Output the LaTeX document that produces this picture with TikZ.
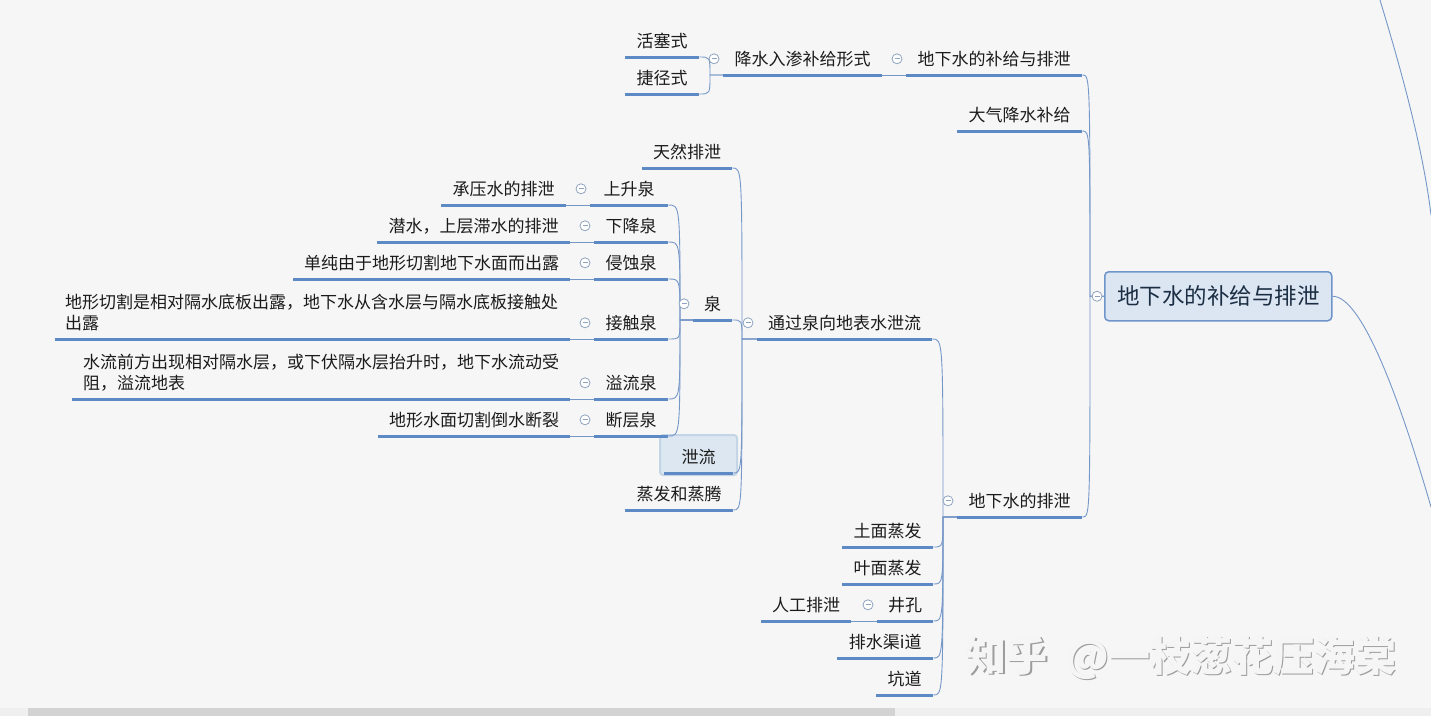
\documentclass[tikz,border=0pt]{standalone}
\usepackage{fontspec}
\setmainfont{Noto Sans CJK SC}
\usetikzlibrary{calc}
\definecolor{bgc}{HTML}{F6F6F6}
\definecolor{ulc}{HTML}{5D89C5}
\definecolor{connc}{HTML}{7597C8}
\definecolor{foldc}{HTML}{8FA3BF}
\definecolor{txt}{HTML}{1B1B1B}
\definecolor{rootfill}{HTML}{DCE6F2}
\definecolor{rootdraw}{HTML}{6F95CB}
\definecolor{roottxt}{HTML}{1C2E44}
\definecolor{selfill}{HTML}{DCE7F1}
\definecolor{seldraw}{HTML}{C4D5E5}
\definecolor{sbl}{HTML}{EFEFEF}
\definecolor{sbd}{HTML}{D3D3D3}
\definecolor{wmfront}{HTML}{F5F5F5}
\definecolor{wmback}{HTML}{9C9C9C}
\tikzset{
  topic/.style={inner sep=0pt, minimum height=32pt, font=\fontsize{17}{21}\selectfont, text=txt},
  ul/.style={draw=ulc, line width=3pt},
  conn/.style={draw=connc, line width=0.9pt},
  fold/.style={circle, draw=foldc, fill=white, line width=0.8pt, minimum size=10pt, inner sep=0pt,
    path picture={\draw[foldc, line width=0.8pt] (-2.5pt,0pt)--(2.5pt,0pt);}},
  rootbox/.style={draw=rootdraw, fill=rootfill, line width=1.5pt, rounded corners=4pt, inner sep=0pt,
    font=\fontsize{22.5}{26}\selectfont, text=roottxt},
  selbox/.style={draw=seldraw, fill=selfill, line width=2pt, rounded corners=3pt},
  wmtext/.style={font=\fontsize{41}{45}\selectfont\bfseries, text=wmfront, inner sep=0pt},
  wmshadow/.style={font=\fontsize{41}{45}\selectfont\bfseries, text=wmback, inner sep=0pt},
}
% \mmtopic[opts]{name}{x left}{x right}{y of underline}{text}
\newcommand\mmtopic[6][]{%
  \node[topic, minimum width={#4-#3}, anchor=south west, #1] (#2) at (#3,#5) {#6};
  \draw[ul] (#2.south west) -- (#2.south east);}
% \mmlink{child}{parent point}{junction x coordinate}
\newcommand\mmlink[3]{%
  \draw[conn] (#1.south east) .. controls (#1.south east -| #3) .. (#2 -| #3) -- (#2);}
\newcommand\mmfold[2][9pt]{\node[fold] (#2-f) at ([xshift=-#1]#2.west) {};}
\begin{document}
\begin{tikzpicture}[x=1pt,y=-1pt]
\useasboundingbox (0,0) rectangle (1431,716);
\fill[bgc] (0,0) rectangle (1431,716);
\fill[sbl] (0,708) rectangle (1431,716);
\fill[sbd] (28,708) rectangle (895,716);
\draw[selbox] (660,435) rectangle (737,475);

% root
\node[rootbox, minimum width=227pt, minimum height=49pt, anchor=north west] (root) at (1104,271) {地下水的补给与排泄};

% top branch
\mmtopic{hs}{625}{699}{57}{活塞式}
\mmtopic{jj}{625}{699}{94}{捷径式}
\mmtopic{js}{723}{882}{75}{降水入渗补给形式}
\mmtopic{sub}{906}{1082}{75}{地下水的补给与排泄}
\mmtopic{dq}{957}{1082}{131}{大气降水补给}
\mmtopic{px}{957}{1082}{517}{地下水的排泄}

% discharge branch
\mmtopic{tq}{757}{932}{339}{通过泉向地表水泄流}
\mmtopic{tm}{842}{933}{547}{土面蒸发}
\mmtopic{ym}{842}{933}{584}{叶面蒸发}
\mmtopic{jk}{877}{933}{621}{井孔}
\mmtopic{rg}{761}{851}{621}{人工排泄}
\mmtopic{ps}{837}{933}{658}{排水渠i道}
\mmtopic{kd}{876}{933}{695}{坑道}

% spring branch
\mmtopic{tr}{642}{732}{168}{天然排泄}
\mmtopic{quan}{693}{732}{320}{泉}
\mmtopic{xl}{664}{733}{473}{泄流}
\mmtopic{zf}{625}{733}{510}{蒸发和蒸腾}

\mmtopic{ss}{590}{668}{205}{上升泉}
\mmtopic{xj}{594}{668}{242}{下降泉}
\mmtopic{qs}{594}{668}{279}{侵蚀泉}
\mmtopic{jc}{594}{668}{339}{接触泉}
\mmtopic{yl}{594}{668}{399}{溢流泉}
\mmtopic{dc}{594}{668}{436}{断层泉}

\mmtopic{ssd}{441}{566}{205}{承压水的排泄}
\mmtopic{xjd}{377}{570}{242}{潜水，上层滞水的排泄}
\mmtopic{qsd}{293}{570}{279}{单纯由于地形切割地下水面而出露}
\mmtopic[align=left, text width=495pt, minimum height=53pt]{jcd}{55}{570}{339}{地形切割是相对隔水底板出露，地下水从含水层与隔水底板接触处\\出露}
\mmtopic[align=left, text width=476pt, minimum height=52pt]{yld}{72}{570}{399}{水流前方出现相对隔水层，或下伏隔水层抬升时，地下水流动受\\阻，溢流地表}
\mmtopic{dcd}{378}{570}{436}{地形水面切割倒水断裂}

% junction coordinates (only x is used)
\coordinate (rootsp) at (1090,0);
\coordinate (jssp) at (710,0);
\coordinate (pxsp) at (943,0);
\coordinate (tqsp) at (742,0);
\coordinate (quansp) at (680,0);

% connectors
\mmlink{sub}{root.west}{rootsp}
\mmlink{dq}{root.west}{rootsp}
\mmlink{px}{root.west}{rootsp}
\draw[conn] (js.south east) -- (sub.south west);
\mmlink{hs}{js.south west}{jssp}
\mmlink{jj}{js.south west}{jssp}

\mmlink{tq}{px.south west}{pxsp}
\mmlink{tm}{px.south west}{pxsp}
\mmlink{ym}{px.south west}{pxsp}
\mmlink{jk}{px.south west}{pxsp}
\mmlink{ps}{px.south west}{pxsp}
\mmlink{kd}{px.south west}{pxsp}
\draw[conn] (rg.south east) -- (jk.south west);

\mmlink{tr}{tq.south west}{tqsp}
\mmlink{quan}{tq.south west}{tqsp}
\mmlink{xl}{tq.south west}{tqsp}
\mmlink{zf}{tq.south west}{tqsp}

\mmlink{ss}{quan.south west}{quansp}
\mmlink{xj}{quan.south west}{quansp}
\mmlink{qs}{quan.south west}{quansp}
\mmlink{jc}{quan.south west}{quansp}
\mmlink{yl}{quan.south west}{quansp}
\mmlink{dc}{quan.south west}{quansp}

\draw[conn] (ssd.south east) -- (ss.south west);
\draw[conn] (xjd.south east) -- (xj.south west);
\draw[conn] (qsd.south east) -- (qs.south west);
\draw[conn] (jcd.south east) -- (jc.south west);
\draw[conn] (yld.south east) -- (yl.south west);
\draw[conn] (dcd.south east) -- (dc.south west);

% connectors leaving to the right
\coordinate (rc1) at (1380,0);
\coordinate (rc2) at (1431,215);
\coordinate (rc3) at (1431,507);
\draw[conn] (rc1) .. controls (1395,50) and (1422,140) .. (rc2);
\draw[conn] (root.east) .. controls (1362,296) and (1400,400) .. (rc3);

% fold markers
\mmfold[7pt]{root}
\mmfold{sub}
\mmfold{js}
\mmfold{px}
\mmfold{tq}
\mmfold{jk}
\mmfold{quan}
\mmfold{ss}
\mmfold{xj}
\mmfold{qs}
\mmfold{jc}
\mmfold{yl}
\mmfold{dc}

% watermark
\node[wmshadow] (wm0) at (1182.5,659.5) {知乎\hspace{0.45em}@一枝葱花压海棠};
\node[wmtext] (wm) at (1181,658) {知乎\hspace{0.45em}@一枝葱花压海棠};
\end{tikzpicture}
\end{document}
